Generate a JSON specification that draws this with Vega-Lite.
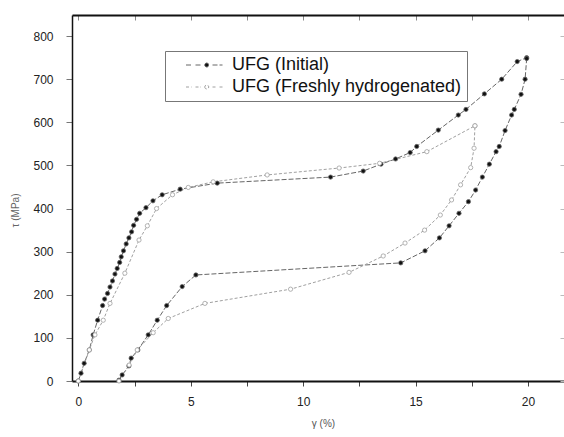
{
  "$schema": "https://vega.github.io/schema/vega-lite/v6.json",
  "width": 492,
  "height": 366,
  "autosize": {"type": "none"},
  "padding": {"left": 72, "top": 15, "right": 0, "bottom": 56},
  "background": "white",
  "config": {"view": {"stroke": null}, "font": "Liberation Sans"},
  "datasets": {
    "curves": [
      {"s": "UFG (Initial)", "b": "i1", "i": 1, "x": 0, "y": 0},
      {"s": "UFG (Initial)", "b": "i1", "i": 2, "x": 0.12, "y": 18},
      {"s": "UFG (Initial)", "b": "i1", "i": 3, "x": 0.26, "y": 41},
      {"s": "UFG (Initial)", "b": "i1", "i": 4, "x": 0.49, "y": 72},
      {"s": "UFG (Initial)", "b": "i1", "i": 5, "x": 0.66, "y": 107},
      {"s": "UFG (Initial)", "b": "i1", "i": 6, "x": 0.86, "y": 141},
      {"s": "UFG (Initial)", "b": "i1", "i": 7, "x": 1.08, "y": 175},
      {"s": "UFG (Initial)", "b": "i1", "i": 8, "x": 1.17, "y": 190},
      {"s": "UFG (Initial)", "b": "i1", "i": 9, "x": 1.3, "y": 203},
      {"s": "UFG (Initial)", "b": "i1", "i": 10, "x": 1.41, "y": 218},
      {"s": "UFG (Initial)", "b": "i1", "i": 11, "x": 1.52, "y": 232},
      {"s": "UFG (Initial)", "b": "i1", "i": 12, "x": 1.63, "y": 248},
      {"s": "UFG (Initial)", "b": "i1", "i": 13, "x": 1.73, "y": 261},
      {"s": "UFG (Initial)", "b": "i1", "i": 14, "x": 1.84, "y": 275},
      {"s": "UFG (Initial)", "b": "i1", "i": 15, "x": 1.91, "y": 288},
      {"s": "UFG (Initial)", "b": "i1", "i": 16, "x": 2.01, "y": 302},
      {"s": "UFG (Initial)", "b": "i1", "i": 17, "x": 2.13, "y": 318},
      {"s": "UFG (Initial)", "b": "i1", "i": 18, "x": 2.25, "y": 332},
      {"s": "UFG (Initial)", "b": "i1", "i": 19, "x": 2.37, "y": 346},
      {"s": "UFG (Initial)", "b": "i1", "i": 20, "x": 2.46, "y": 361},
      {"s": "UFG (Initial)", "b": "i1", "i": 21, "x": 2.59, "y": 375},
      {"s": "UFG (Initial)", "b": "i1", "i": 22, "x": 2.73, "y": 389},
      {"s": "UFG (Initial)", "b": "i1", "i": 23, "x": 3.01, "y": 402},
      {"s": "UFG (Initial)", "b": "i1", "i": 24, "x": 3.32, "y": 418},
      {"s": "UFG (Initial)", "b": "i1", "i": 25, "x": 3.73, "y": 432},
      {"s": "UFG (Initial)", "b": "i1", "i": 26, "x": 4.53, "y": 445},
      {"s": "UFG (Initial)", "b": "i1", "i": 27, "x": 6.18, "y": 459},
      {"s": "UFG (Initial)", "b": "i1", "i": 28, "x": 11.22, "y": 473},
      {"s": "UFG (Initial)", "b": "i1", "i": 29, "x": 12.67, "y": 487},
      {"s": "UFG (Initial)", "b": "i1", "i": 30, "x": 13.46, "y": 503},
      {"s": "UFG (Initial)", "b": "i1", "i": 31, "x": 14.11, "y": 515},
      {"s": "UFG (Initial)", "b": "i1", "i": 32, "x": 14.76, "y": 530},
      {"s": "UFG (Initial)", "b": "i1", "i": 33, "x": 15.05, "y": 544},
      {"s": "UFG (Initial)", "b": "i1", "i": 34, "x": 16.01, "y": 582},
      {"s": "UFG (Initial)", "b": "i1", "i": 35, "x": 16.9, "y": 617},
      {"s": "UFG (Initial)", "b": "i1", "i": 36, "x": 17.24, "y": 630},
      {"s": "UFG (Initial)", "b": "i1", "i": 37, "x": 18.06, "y": 666},
      {"s": "UFG (Initial)", "b": "i1", "i": 38, "x": 18.83, "y": 700},
      {"s": "UFG (Initial)", "b": "i1", "i": 39, "x": 19.52, "y": 741},
      {"s": "UFG (Initial)", "b": "i1", "i": 40, "x": 19.94, "y": 750},
      {"s": "UFG (Initial)", "b": "i2", "i": 1, "x": 1.81, "y": 2},
      {"s": "UFG (Initial)", "b": "i2", "i": 2, "x": 1.95, "y": 14},
      {"s": "UFG (Initial)", "b": "i2", "i": 3, "x": 2.25, "y": 35},
      {"s": "UFG (Initial)", "b": "i2", "i": 4, "x": 2.35, "y": 53},
      {"s": "UFG (Initial)", "b": "i2", "i": 5, "x": 2.65, "y": 72},
      {"s": "UFG (Initial)", "b": "i2", "i": 6, "x": 3.11, "y": 107},
      {"s": "UFG (Initial)", "b": "i2", "i": 7, "x": 3.51, "y": 141},
      {"s": "UFG (Initial)", "b": "i2", "i": 8, "x": 3.93, "y": 175},
      {"s": "UFG (Initial)", "b": "i2", "i": 9, "x": 4.62, "y": 219},
      {"s": "UFG (Initial)", "b": "i2", "i": 10, "x": 5.23, "y": 246},
      {"s": "UFG (Initial)", "b": "i2", "i": 11, "x": 14.34, "y": 274},
      {"s": "UFG (Initial)", "b": "i2", "i": 12, "x": 15.42, "y": 302},
      {"s": "UFG (Initial)", "b": "i2", "i": 13, "x": 16.06, "y": 332},
      {"s": "UFG (Initial)", "b": "i2", "i": 14, "x": 16.49, "y": 360},
      {"s": "UFG (Initial)", "b": "i2", "i": 15, "x": 16.93, "y": 389},
      {"s": "UFG (Initial)", "b": "i2", "i": 16, "x": 17.35, "y": 416},
      {"s": "UFG (Initial)", "b": "i2", "i": 17, "x": 17.67, "y": 443},
      {"s": "UFG (Initial)", "b": "i2", "i": 18, "x": 17.97, "y": 473},
      {"s": "UFG (Initial)", "b": "i2", "i": 19, "x": 18.28, "y": 503},
      {"s": "UFG (Initial)", "b": "i2", "i": 20, "x": 18.58, "y": 532},
      {"s": "UFG (Initial)", "b": "i2", "i": 21, "x": 18.72, "y": 544},
      {"s": "UFG (Initial)", "b": "i2", "i": 22, "x": 18.98, "y": 581},
      {"s": "UFG (Initial)", "b": "i2", "i": 23, "x": 19.27, "y": 617},
      {"s": "UFG (Initial)", "b": "i2", "i": 24, "x": 19.39, "y": 630},
      {"s": "UFG (Initial)", "b": "i2", "i": 25, "x": 19.69, "y": 665},
      {"s": "UFG (Initial)", "b": "i2", "i": 26, "x": 19.87, "y": 700},
      {"s": "UFG (Initial)", "b": "i2", "i": 27, "x": 19.94, "y": 748},
      {"s": "UFG (Freshly hydrogenated)", "b": "h1", "i": 1, "x": 0, "y": 0},
      {"s": "UFG (Freshly hydrogenated)", "b": "h1", "i": 2, "x": 0.49, "y": 72},
      {"s": "UFG (Freshly hydrogenated)", "b": "h1", "i": 3, "x": 0.74, "y": 107},
      {"s": "UFG (Freshly hydrogenated)", "b": "h1", "i": 4, "x": 1.11, "y": 141},
      {"s": "UFG (Freshly hydrogenated)", "b": "h1", "i": 5, "x": 1.41, "y": 180},
      {"s": "UFG (Freshly hydrogenated)", "b": "h1", "i": 6, "x": 2.07, "y": 250},
      {"s": "UFG (Freshly hydrogenated)", "b": "h1", "i": 7, "x": 2.7, "y": 327},
      {"s": "UFG (Freshly hydrogenated)", "b": "h1", "i": 8, "x": 3.07, "y": 360},
      {"s": "UFG (Freshly hydrogenated)", "b": "h1", "i": 9, "x": 3.48, "y": 400},
      {"s": "UFG (Freshly hydrogenated)", "b": "h1", "i": 10, "x": 4.19, "y": 432},
      {"s": "UFG (Freshly hydrogenated)", "b": "h1", "i": 11, "x": 4.89, "y": 449},
      {"s": "UFG (Freshly hydrogenated)", "b": "h1", "i": 12, "x": 6.0, "y": 462},
      {"s": "UFG (Freshly hydrogenated)", "b": "h1", "i": 13, "x": 8.4, "y": 478},
      {"s": "UFG (Freshly hydrogenated)", "b": "h1", "i": 14, "x": 11.6, "y": 494},
      {"s": "UFG (Freshly hydrogenated)", "b": "h1", "i": 15, "x": 13.4, "y": 505},
      {"s": "UFG (Freshly hydrogenated)", "b": "h1", "i": 16, "x": 15.5, "y": 532},
      {"s": "UFG (Freshly hydrogenated)", "b": "h1", "i": 17, "x": 17.64, "y": 592},
      {"s": "UFG (Freshly hydrogenated)", "b": "h2", "i": 1, "x": 1.81, "y": 0},
      {"s": "UFG (Freshly hydrogenated)", "b": "h2", "i": 2, "x": 2.26, "y": 37},
      {"s": "UFG (Freshly hydrogenated)", "b": "h2", "i": 3, "x": 2.62, "y": 72},
      {"s": "UFG (Freshly hydrogenated)", "b": "h2", "i": 4, "x": 3.33, "y": 112},
      {"s": "UFG (Freshly hydrogenated)", "b": "h2", "i": 5, "x": 4.0, "y": 145},
      {"s": "UFG (Freshly hydrogenated)", "b": "h2", "i": 6, "x": 5.63, "y": 180},
      {"s": "UFG (Freshly hydrogenated)", "b": "h2", "i": 7, "x": 9.44, "y": 213},
      {"s": "UFG (Freshly hydrogenated)", "b": "h2", "i": 8, "x": 12.04, "y": 252},
      {"s": "UFG (Freshly hydrogenated)", "b": "h2", "i": 9, "x": 13.56, "y": 290},
      {"s": "UFG (Freshly hydrogenated)", "b": "h2", "i": 10, "x": 14.53, "y": 320},
      {"s": "UFG (Freshly hydrogenated)", "b": "h2", "i": 11, "x": 15.4, "y": 350},
      {"s": "UFG (Freshly hydrogenated)", "b": "h2", "i": 12, "x": 16.1, "y": 385},
      {"s": "UFG (Freshly hydrogenated)", "b": "h2", "i": 13, "x": 16.6, "y": 420},
      {"s": "UFG (Freshly hydrogenated)", "b": "h2", "i": 14, "x": 17.0, "y": 455},
      {"s": "UFG (Freshly hydrogenated)", "b": "h2", "i": 15, "x": 17.45, "y": 495},
      {"s": "UFG (Freshly hydrogenated)", "b": "h2", "i": 16, "x": 17.6, "y": 540},
      {"s": "UFG (Freshly hydrogenated)", "b": "h2", "i": 17, "x": 17.64, "y": 592}
    ]
  },
  "data": {"name": "curves"},
  "resolve": {"axis": {"x": "independent", "y": "independent"}},
  "layer": [
    {
      "mark": {"type": "line", "strokeWidth": 1},
      "encoding": {
        "x": {
          "field": "x", "type": "quantitative",
          "scale": {"domain": [-0.28, 21.6], "nice": false, "zero": false},
          "axis": {
            "orient": "bottom",
            "values": [0, 2.5, 5, 7.5, 10, 12.5, 15, 17.5, 20],
            "labelExpr": "datum.value % 5 === 0 ? datum.label : ''",
            "grid": false,
            "domainColor": "#111", "domainWidth": 2,
            "tickColor": "#444", "tickSize": 5, "tickWidth": 1,
            "labelFont": "Liberation Sans", "labelFontSize": 12, "labelColor": "#222",
            "labelPadding": 10, "labelFlush": false,
            "title": "γ (%)",
            "titleFont": "Liberation Sans", "titleFontSize": 10, "titleFontWeight": "normal",
            "titleColor": "#555", "titleX": 251, "titleY": 42, "titleBaseline": "middle"
          }
        },
        "y": {
          "field": "y", "type": "quantitative",
          "scale": {"domain": [0, 849], "nice": false},
          "axis": {
            "orient": "left",
            "values": [0, 100, 200, 300, 400, 500, 600, 700, 800],
            "grid": false,
            "domainColor": "#111", "domainWidth": 1.5,
            "tickColor": "#777", "tickSize": 6, "tickWidth": 1,
            "labelFont": "Liberation Sans", "labelFontSize": 12, "labelColor": "#222",
            "labelPadding": 13,
            "title": "τ (MPa)",
            "titleFont": "Liberation Sans", "titleFontSize": 10, "titleFontWeight": "normal",
            "titleColor": "#666", "titleX": -57, "titleY": 195, "titleBaseline": "middle", "titleAngle": -90
          }
        },
        "detail": {"field": "b"},
        "order": {"field": "i", "type": "quantitative"},
        "stroke": {
          "field": "s", "type": "nominal",
          "scale": {"domain": ["UFG (Initial)", "UFG (Freshly hydrogenated)"], "range": ["#666666", "#a0a0a0"]},
          "legend": {
            "title": null, "orient": "none", "legendX": 93, "legendY": 36,
            "symbolType": "M-3.6,0L-2.5,0M-1.7,0L-0.6,0M1.7,0L2.7,0M3.1,0L3.7,0M0.15,0A0.4,0.4 0 1 0 0.95,0A0.4,0.4 0 1 0 0.15,0Z",
            "symbolSize": 100, "symbolStrokeWidth": 1,
            "symbolOffset": 25, "labelOffset": 19, "labelLimit": 400,
            "labelFont": "Liberation Sans", "labelFontSize": 18, "labelColor": "#111",
            "strokeColor": "#777", "fillColor": "white", "padding": 5, "rowPadding": 4
          }
        },
        "strokeDash": {
          "field": "s", "type": "nominal",
          "scale": {"domain": ["UFG (Initial)", "UFG (Freshly hydrogenated)"], "range": [[5, 2], [3, 2]]},
          "legend": null
        }
      }
    },
    {
      "mark": {"type": "point", "shape": "circle", "size": 18, "strokeWidth": 0.8, "opacity": 1},
      "encoding": {
        "x": {
          "field": "x", "type": "quantitative",
          "axis": {
            "orient": "top", "values": [0, 2.5, 5, 7.5, 10, 12.5, 15, 17.5, 20],
            "labels": false, "grid": false, "title": null,
            "domainColor": "#111", "domainWidth": 2,
            "tickColor": "#888", "tickSize": -5, "tickWidth": 1
          }
        },
        "y": {
          "field": "y", "type": "quantitative",
          "axis": {
            "orient": "right", "values": [0, 100, 200, 300, 400, 500, 600, 700, 800],
            "labels": false, "grid": false, "title": null, "domain": false,
            "tickColor": "#bbb", "tickSize": -4, "tickWidth": 1
          }
        },
        "stroke": {"field": "s", "type": "nominal"},
        "fill": {
          "field": "s", "type": "nominal",
          "scale": {"domain": ["UFG (Initial)", "UFG (Freshly hydrogenated)"], "range": ["#111111", "#ffffff"]},
          "legend": {
            "title": null, "orient": "none", "legendX": 93, "legendY": 36,
            "symbolType": "M-3.6,0L-2.5,0M-1.7,0L-0.6,0M1.7,0L2.7,0M3.1,0L3.7,0M0.15,0A0.4,0.4 0 1 0 0.95,0A0.4,0.4 0 1 0 0.15,0Z",
            "symbolSize": 100, "symbolStrokeWidth": 1,
            "symbolOffset": 25, "labelOffset": 19, "labelLimit": 400,
            "labelFont": "Liberation Sans", "labelFontSize": 18, "labelColor": "#111",
            "strokeColor": "#777", "fillColor": "white", "padding": 5, "rowPadding": 4
          }
        }
      }
    }
  ]
}
